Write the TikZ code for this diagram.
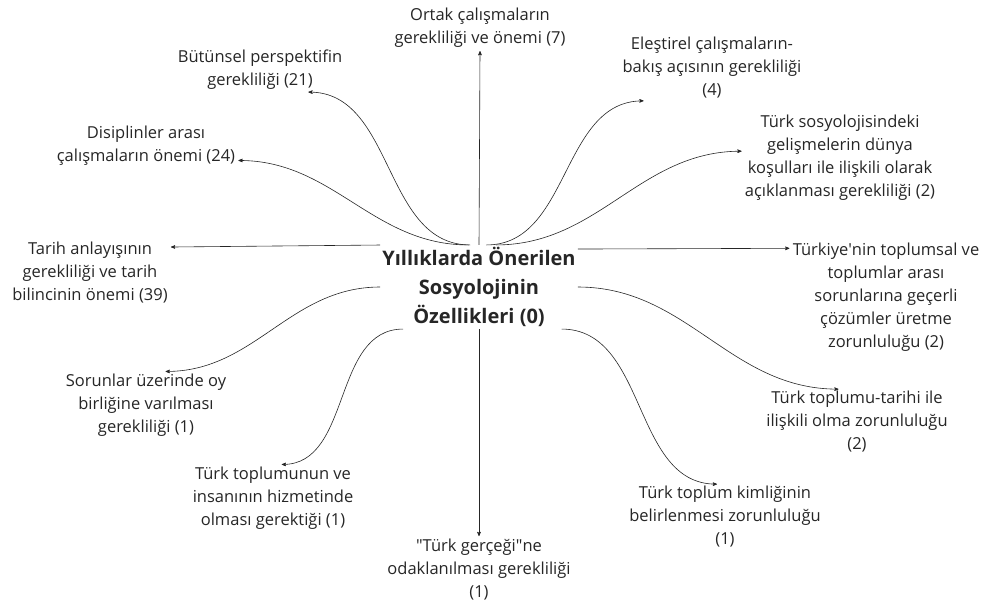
\documentclass[tikz,border=0pt]{standalone}
\usepackage{fontspec}
\setmainfont{Open Sans}
\usetikzlibrary{arrows, positioning}

\begin{document}
\begin{tikzpicture}[x=1pt,y=-1pt,->,>=stealth',shorten >=1pt,
 line width=0.6pt,draw=black!85,text=black!85,
 lbl/.style={align=center,inner sep=2pt,font=\fontsize{16.5}{23}\selectfont},
 core/.style={align=center,inner sep=2pt,font=\bfseries\fontsize{20}{29}\selectfont}]

  \useasboundingbox (0,0) rectangle (984,600);

  \node[core] (c) at (479,287) {Yıllıklarda Önerilen\\Sosyolojinin\\Özellikleri (0)};

  \node[lbl] (ortak) at (480,28) {Ortak çalışmaların\\gerekliliği ve önemi (7)};
  \node[lbl] (butun) at (260,70) {Bütünsel perspektifin\\gerekliliği (21)};
  \node[lbl] (disip) at (146,146) {Disiplinler arası\\çalışmaların önemi (24)};
  \node[lbl] (tarih) at (90,273) {Tarih anlayışının\\gerekliliği ve tarih\\bilincinin önemi (39)};
  \node[lbl] (sorun) at (146,405) {Sorunlar üzerinde oy\\birliğine varılması\\gerekliliği (1)};
  \node[lbl] (topl) at (273,498) {Türk toplumunun ve\\insanının hizmetinde\\olması gerektiği (1)};
  \node[lbl] (gercek) at (479,570) {\textquotedbl Türk gerçeği\textquotedbl ne\\odaklanılması gerekliliği\\(1)};
  \node[lbl] (kimlik) at (725,517) {Türk toplum kimliğinin\\belirlenmesi zorunluluğu\\(1)};
  \node[lbl] (tarihi) at (857,422) {Türk toplumu-tarihi ile\\ilişkili olma zorunluluğu\\(2)};
  \node[lbl] (cozum) at (886,297) {Türkiye\textquotesingle nin toplumsal ve\\toplumlar arası\\sorunlarına geçerli\\çözümler üretme\\zorunluluğu (2)};
  \node[lbl] (dunya) at (840,158) {Türk sosyolojisindeki\\gelişmelerin dünya\\koşulları ile ilişkili olarak\\açıklanması gerekliliği (2)};
  \node[lbl] (elest) at (712,68) {Eleştirel çalışmaların-\\bakış açısının gerekliliği\\(4)};

  % straight ones
  \foreach \s/\t in {c.north/ortak.south, c.south/gercek.north,
                     c.157/tarih.18, c.21/cozum.153} {
   \draw (\s) -- (\t);}

  % curved ones
  \foreach \a/\t/\o/\i in {102/butun.-25/180/0, 104/disip.-9/180/0,
                           180/sorun.61/180/0, 209/topl.77/180/0,
                           -27/kimlik.102/0/180, 0/tarihi.118/0/180,
                           68/dunya.176/0/180, 80/elest.-154/0/180} {
   \draw (c.\a) to[out=\o,in=\i] (\t);}

\end{tikzpicture}
\end{document}
